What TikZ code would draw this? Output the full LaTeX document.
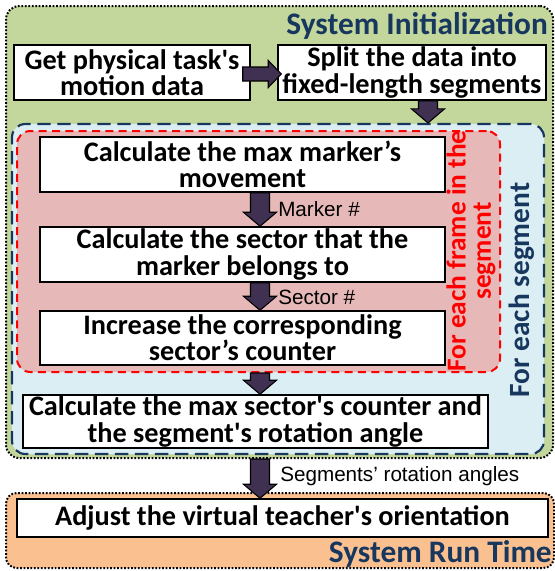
\documentclass[tikz,border=0pt]{standalone}
\usepackage{fontspec}
\setmainfont{Carlito}[Ligatures=TeXOff]
\newfontfamily\labelfont{Liberation Sans}[Ligatures=TeXOff]
\usetikzlibrary{calc}

\definecolor{initgreen}{HTML}{C3D69B}
\definecolor{segblue}{HTML}{DBEEF4}
\definecolor{framepink}{HTML}{E6B9B8}
\definecolor{runorange}{HTML}{FAC090}
\definecolor{navy}{HTML}{17375E}
\definecolor{arrowpurple}{HTML}{403152}

\tikzset{
  stepbox/.style={draw=black, line width=1.1pt, fill=white, inner sep=0pt,
    align=center, font=\fontsize{21.2}{19.6}\selectfont\bfseries},
  dotframe/.style={draw=black, line width=1.5pt, dash pattern=on 1.3pt off 1.3pt,
    rounded corners=8pt, inner sep=0pt},
  blockarrow/.style={fill=arrowpurple, draw=black, line width=0.8pt, line join=miter},
  flowlabel/.style={font=\labelfont\fontsize{15.5}{17}\selectfont, anchor=west, inner sep=0pt},
  phasetitle/.style={font=\fontsize{23.5}{26}\selectfont\bfseries, text=navy, anchor=east, inner sep=0pt}
}

% vertical block arrow from #1 down to the tip #2 (same x)
\newcommand{\varrowblock}[2]{%
  \filldraw[blockarrow] ($(#1)+(-9.5,0)$) -- ($(#2)+(-9.5,-14)$) -- ($(#2)+(-16.5,-14)$)
    -- (#2) -- ($(#2)+(16.5,-14)$) -- ($(#2)+(9.5,-14)$) -- ($(#1)+(9.5,0)$) -- cycle;}
% horizontal block arrow from #1 right to the tip #2 (same y)
\newcommand{\harrowblock}[2]{%
  \filldraw[blockarrow] ($(#1)+(0,-7)$) -- ($(#2)+(-13,-7)$) -- ($(#2)+(-13,-13.5)$)
    -- (#2) -- ($(#2)+(-13,13.5)$) -- ($(#2)+(-13,7)$) -- ($(#1)+(0,7)$) -- cycle;}

\begin{document}
\begin{tikzpicture}[x=0.75pt, y=-0.75pt]
\useasboundingbox (0,0) rectangle (555,571);

% phase and loop frames
\node[dotframe, fill=initgreen, rounded corners=10pt, minimum width=547*0.75pt, minimum height=452*0.75pt]
  (green) at (279.5,232) {};
\node[draw=navy, fill=segblue, line width=1.6pt, dash pattern=on 10pt off 5pt, rounded corners=10pt,
  inner sep=0pt, minimum width=532*0.75pt, minimum height=330*0.75pt] (blue) at (278,289) {};
\node[draw=red, fill=framepink, line width=1.5pt, dash pattern=on 6pt off 4pt, rounded corners=10pt,
  inner sep=0pt, minimum width=483*0.75pt, minimum height=241*0.75pt] (redf) at (258.5,251.5) {};
\node[dotframe, fill=runorange, minimum width=548*0.75pt, minimum height=75*0.75pt]
  (orange) at (280,530.5) {};

% titles
\node[phasetitle] (tinit) at (548,26) {System Initialization};
\node[phasetitle] (trun) at (552,554) {System Run Time};
\node[font=\fontsize{20.5}{19}\selectfont\bfseries, text=red, rotate=90, align=center, inner sep=0pt]
  (tframe) at (471,251) {For each frame in the\\segment};
\node[font=\fontsize{22}{24}\selectfont\bfseries, text=navy, rotate=90, inner sep=0pt]
  (tseg) at (522,290) {For each segment};

% processing steps
\node[stepbox, minimum width=236*0.75pt, minimum height=55*0.75pt] (get) at (132,72.5)
  {Get physical task's\\motion data};
\node[stepbox, minimum width=268*0.75pt, minimum height=55*0.75pt] (split) at (412,72.5)
  {Split the data into\\fixed-length segments};
\node[stepbox, minimum width=405*0.75pt, minimum height=55*0.75pt] (mm) at (242.5,164.5)
  {Calculate the max marker’s\\movement};
\node[stepbox, minimum width=405*0.75pt, minimum height=55*0.75pt] (sec) at (242.5,254.5)
  {Calculate the sector that the\\marker belongs to};
\node[stepbox, minimum width=405*0.75pt, minimum height=54*0.75pt] (inc) at (242.5,338)
  {Increase the corresponding\\sector’s counter};
\node[stepbox, minimum width=465*0.75pt, minimum height=53*0.75pt] (maxs) at (255.5,421.5)
  {Calculate the max sector's counter and\\the segment's rotation angle};
\node[stepbox, minimum width=531*0.75pt, minimum height=38*0.75pt] (adj) at (282.5,518)
  {Adjust the virtual teacher's orientation};

% arrow axes
\coordinate (ax) at (260,0);
\coordinate (axtop) at (428,0);

% connectors
\coordinate (h1) at ($(get.east)+(-8,1.5)$);
\coordinate (h2) at ($(split.west)+(4,1.5)$);
\harrowblock{h1}{h2}
\varrowblock{split.south -| axtop}{blue.north -| axtop}
\varrowblock{mm.south -| ax}{sec.north -| ax}
\varrowblock{sec.south -| ax}{inc.north -| ax}
\varrowblock{redf.south -| ax}{maxs.north -| ax}
\varrowblock{green.south -| ax}{adj.north -| ax}

% flow labels
\node[flowlabel] (lmarker) at (278,209) {Marker \#};
\node[flowlabel] (lsector) at (278,297) {Sector \#};
\node[flowlabel] (langles) at (280,476) {Segments’ rotation angles};
\end{tikzpicture}
\end{document}
